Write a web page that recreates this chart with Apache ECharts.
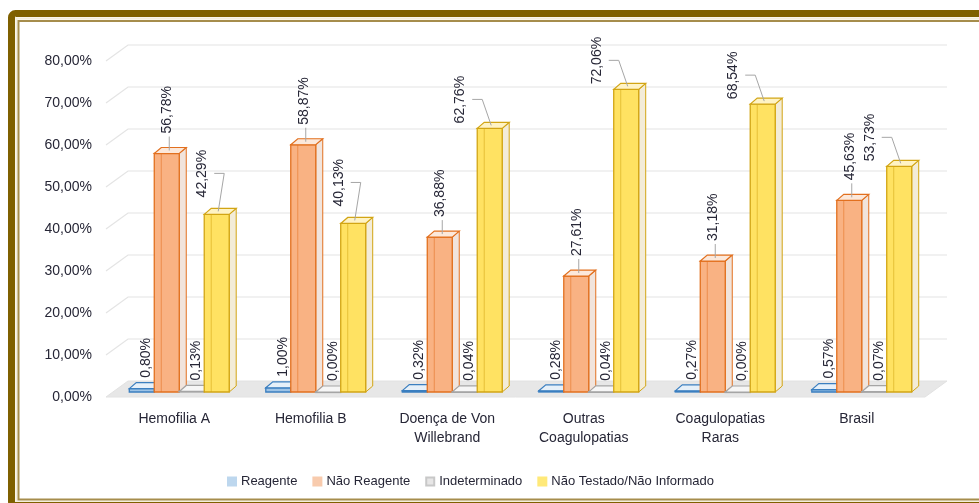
<!DOCTYPE html>
<html><head><meta charset="utf-8">
<script src="https://cdn.jsdelivr.net/npm/echarts@6/dist/echarts.min.js"></script>
<style>html,body{margin:0;padding:0;background:#fff}#c{width:979px;height:503px}</style>
</head><body><div id="c"></div>
<script>
// ---- data ----
const categories = ['Hemofilia A', 'Hemofilia B', 'Doença de Von\nWillebrand', 'Outras\nCoagulopatias', 'Coagulopatias\nRaras', 'Brasil'];
const seriesNames = ['Reagente', 'Não Reagente', 'Indeterminado', 'Não Testado/Não Informado'];
const reagente = [0.80, 1.00, 0.32, 0.28, 0.27, 0.57];
const naoReagente = [56.78, 58.87, 36.88, 27.61, 31.18, 45.63];
const indeterminado = [0.13, 0.00, 0.04, 0.04, 0.00, 0.07];
const naoTestado = [42.29, 40.13, 62.76, 72.06, 68.54, 53.73];
const yTicks = [0, 10, 20, 30, 40, 50, 60, 70, 80];

// ---- style ----
const FONT = '"Liberation Sans", Arial, sans-serif';
const TXT = '#262636';
const WALL = [22, -16];
const BAR_OFF = [5, -5];
const BAR_DEPTH = [7, -6];
const palette = [
  {legend: '#bdd7ee', front: '#9dc3e6', side: '#dbe7f3', top: '#e6f0f9', stroke: '#3b7fc0'},
  {legend: '#f8cbad', front: '#f9b283', side: '#f1e4dc', top: '#fce8da', stroke: '#e2701f'},
  {legend: '#e7e6e6', front: '#e2e2e2', side: '#efefef', top: '#f6f6f6', stroke: '#a5a5a5'},
  {legend: '#ffe979', front: '#ffe262', side: '#f3ecd8', top: '#fff3c4', stroke: '#d2a514'}
];
const seriesData = [reagente, naoReagente, indeterminado, naoTestado];

function fmt(v) { return v.toFixed(2).replace('.', ',') + '%'; }

function rotText(x, y, txt) {
  return {type: 'text', x: x, y: y, rotation: Math.PI / 2, z2: 20,
    style: {text: txt, fill: TXT, font: '14px ' + FONT, align: 'left', verticalAlign: 'middle'}};
}

function makeBarRender(s) {
  return function (params, api) {
    const ci = api.value(0), v = api.value(1);
    const p0 = api.coord([ci, 0]), p1 = api.coord([ci, v]);
    const bw = api.size([1, 0])[0] * 0.183;
    const x = p0[0] + BAR_OFF[0] + (s - 2) * bw;
    const yb = p0[1] + BAR_OFF[1], yt = p1[1] + BAR_OFF[1];
    const dx = BAR_DEPTH[0], dy = BAR_DEPTH[1];
    const c = palette[s];
    const ch = [];
    ch.push({type: 'polygon', shape: {points: [[x + bw, yb], [x + bw + dx, yb + dy], [x + bw + dx, yt + dy], [x + bw, yt]]},
      style: {fill: c.side, stroke: c.stroke, lineWidth: 1}});
    ch.push({type: 'rect', shape: {x: x, y: yt, width: bw, height: Math.max(yb - yt, 0.5)},
      style: {fill: c.front, stroke: c.stroke, lineWidth: 1.3}});
    if (yb - yt > 6) {
      ch.push({type: 'line', shape: {x1: x + dx, y1: yt, x2: x + dx, y2: yb}, style: {stroke: c.stroke, lineWidth: 1, opacity: 0.55}});
    }
    ch.push({type: 'polygon', shape: {points: [[x, yt], [x + dx, yt + dy], [x + bw + dx, yt + dy], [x + bw, yt]]},
      style: {fill: c.top, stroke: c.stroke, lineWidth: 1.2}});
    const cx = x + (bw + dx) / 2;
    const txt = fmt(v);
    const LEN = 48;
    const lineStyle = {stroke: '#a6a6a6', lineWidth: 1, fill: null};
    if (v < 5) {
      ch.push(rotText(cx + 1, yt + dy - 5, txt));
    } else if (s === 3) {
      const off = v > 50 ? [-33, -5] : [-18, -17];
      const lx = cx + off[0], lb = yt + off[1];
      const mid = lb - LEN / 2;
      const anchorX = cx - 2, anchorY = yt + dy / 2;
      ch.push({type: 'polyline', shape: {points: [[lx + 12, mid], [lx + 22, mid], [anchorX, anchorY]]}, style: lineStyle});
      ch.push(rotText(lx, lb, txt));
    } else {
      const lb = yt + dy - 14;
      ch.push({type: 'line', shape: {x1: cx - 1, y1: lb + 3, x2: cx - 1, y2: yt + dy / 2}, style: lineStyle});
      ch.push(rotText(cx - 3, lb, txt));
    }
    return {type: 'group', children: ch};
  };
}

function wallRender(params, api) {
  const v = api.value(1);
  const y = api.coord([0, v])[1];
  const cs = params.coordSys;
  const x0 = cs.x, x1 = cs.x + cs.width;
  const wx = WALL[0], wy = WALL[1];
  if (v === 0) {
    return {type: 'polygon', shape: {points: [[x0, y], [x0 + wx, y + wy], [x1 + wx, y + wy], [x1, y]]},
      style: {fill: '#e7e7e7', stroke: '#e2e2e2', lineWidth: 1}};
  }
  return {type: 'polyline', shape: {points: [[x0, y], [x0 + wx, y + wy], [x1 + wx, y + wy]]},
    style: {stroke: '#e4e4e4', lineWidth: 1.2, fill: null}};
}

const series = [{
  type: 'custom', name: '_wall', silent: true, z: 1,
  data: yTicks.map(v => [0, v]), encode: {x: 0, y: 1},
  renderItem: wallRender, clip: false
}];
seriesNames.forEach((n, s) => {
  series.push({
    type: 'custom', name: n, z: 2 + s,
    itemStyle: {color: palette[s].legend, borderColor: s === 2 ? '#c8c8c8' : palette[s].legend, borderWidth: 0.6},
    data: seriesData[s].map((v, i) => [i, v]), encode: {x: 0, y: 1},
    renderItem: makeBarRender(s), clip: false
  });
});

const chart = echarts.init(document.getElementById('c'), null, {renderer: 'canvas'});
chart.setOption({
  animation: false,
  backgroundColor: '#ffffff',
  textStyle: {fontFamily: FONT},
  grid: {left: 106, right: 54, top: 61, bottom: 106},
  legend: {
    data: seriesNames, left: 222, top: 470, itemWidth: 8, itemHeight: 8, itemGap: 15, icon: 'rect',
    textStyle: {fontSize: 13, color: TXT, fontFamily: FONT}
  },
  xAxis: {
    type: 'category', data: categories,
    axisLine: {show: false}, axisTick: {show: false},
    axisLabel: {color: TXT, fontSize: 14, fontFamily: FONT, margin: 13, lineHeight: 19, interval: 0}
  },
  yAxis: {
    type: 'value', min: 0, max: 80, interval: 10,
    axisLine: {show: false}, axisTick: {show: false}, splitLine: {show: false},
    axisLabel: {color: TXT, fontSize: 14, fontFamily: FONT, margin: 14, formatter: v => fmt(v)}
  },
  graphic: [
    {type: 'rect', silent: true, z: 100, shape: {x: 16.5, y: 18.5, width: 1000, height: 483}, style: {fill: null, stroke: '#f4eedc', lineWidth: 2}},
    {type: 'rect', silent: true, z: 100, shape: {x: 18.5, y: 21, width: 1000, height: 478.5}, style: {fill: null, stroke: '#a68d4c', lineWidth: 2}},
    {type: 'rect', silent: true, z: 101, shape: {x: 11.5, y: 13.5, width: 1000, height: 492, r: 4}, style: {fill: null, stroke: '#7f6000', lineWidth: 7}}
  ],
  series: series
});
</script></body></html>
